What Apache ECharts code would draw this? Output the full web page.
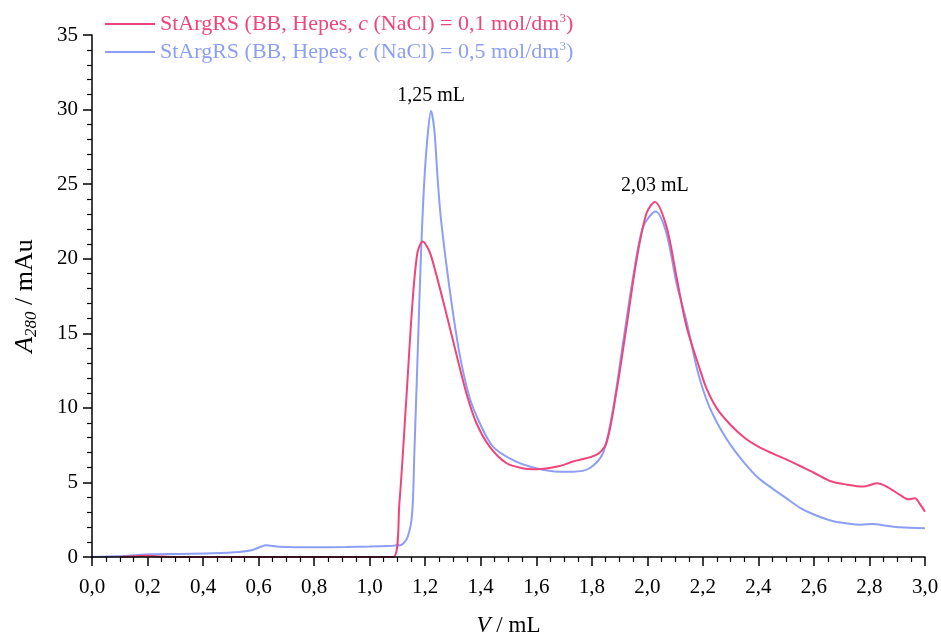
<!DOCTYPE html>
<html>
<head>
<meta charset="utf-8">
<script src="https://cdn.jsdelivr.net/npm/echarts@6/dist/echarts.min.js"></script>
<style>html,body{margin:0;padding:0;background:#fff}#c{width:941px;height:639px}</style>
</head>
<body>
<div id="c"></div>
<script>
// Series 1: c(NaCl) = 0,1 mol/dm3
const pinkV = [0.10,0.15,0.20,0.25,0.30,1.085,1.107,1.131,1.154,1.172,1.191,1.215,1.239,1.275,1.311,1.348,1.384,1.432,1.492,1.55,1.60,1.684,1.732,1.816,1.852,1.888,1.925,1.961,1.997,2.027,2.069,2.105,2.141,2.189,2.213,2.249,2.30,2.35,2.40,2.45,2.50,2.55,2.60,2.658,2.72,2.778,2.826,2.862,2.91,2.94,2.964,2.98,3.00];
const pinkA = [0.0,0.05,0.08,0.03,0.0,0.0,3.6,10.3,17.0,20.4,21.15,20.5,19.0,16.4,13.7,11.0,9.0,7.4,6.3,5.95,5.88,6.1,6.4,6.84,7.6,11.0,15.45,19.9,23.05,23.8,22.15,18.8,15.45,12.6,11.3,10.0,8.85,8.0,7.4,6.95,6.55,6.1,5.65,5.1,4.85,4.72,4.94,4.72,4.16,3.87,3.94,3.6,3.04];
// Series 2: c(NaCl) = 0,5 mol/dm3
const blueV = [0.0,0.109,0.217,0.314,0.433,0.53,0.578,0.61,0.626,0.674,0.795,0.915,1.0,1.083,1.113,1.137,1.153,1.161,1.173,1.185,1.197,1.21,1.221,1.233,1.245,1.257,1.287,1.323,1.359,1.396,1.444,1.516,1.60,1.684,1.732,1.792,1.84,1.876,1.912,1.949,1.985,2.03,2.069,2.105,2.141,2.177,2.201,2.225,2.26,2.30,2.35,2.40,2.45,2.50,2.55,2.60,2.67,2.72,2.77,2.81,2.86,2.91,3.00];
const blueA = [0.0,0.07,0.18,0.2,0.25,0.34,0.47,0.7,0.78,0.69,0.65,0.67,0.7,0.76,0.8,1.36,2.93,7.0,13.7,20.4,25.3,28.5,29.9,28.6,25.3,22.6,18.1,13.7,10.75,9.0,7.4,6.5,5.95,5.72,5.72,5.95,6.95,9.86,14.3,18.8,22.15,23.16,21.7,18.36,15.8,12.76,11.2,10.0,8.7,7.5,6.3,5.3,4.6,3.95,3.3,2.85,2.4,2.25,2.17,2.21,2.1,1.99,1.92];
// Peak annotations
const peakV = [1.221, 2.027];
const peakA = [29.9, 23.8];
const peakText = ['1,25 mL', '2,03 mL'];
const seriesNames = ['c01', 'c05'];
const legendSalt = ['0,1', '0,5'];

const FONT = 'Liberation Serif';
const PINK = '#f0457a';
const BLUE = '#8c9ff5';

const chart = echarts.init(document.getElementById('c'));
const zip = (a, b) => a.map((v, i) => [v, b[i]]);
chart.setOption({
  animation: false,
  backgroundColor: '#fff',
  grid: {left: 92, right: 16, top: 35, bottom: 82, containLabel: false, outerBoundsMode: 'none'},
  legend: {
    left: 100, top: 7, orient: 'vertical', itemGap: 5,
    itemWidth: 50, itemHeight: 2,
    icon: 'rect',
    data: seriesNames,
    formatter: function (name) {
      const k = seriesNames.indexOf(name);
      const col = k === 0 ? 'p' : 'b';
      return '{' + col + 't|StArgRS (BB, Hepes, }{' + col + 'i|c}{' + col + 't| (NaCl) = ' + legendSalt[k] + ' mol/dm}{' + col + 's|3}{' + col + 't|)}';
    },
    textStyle: {
      fontFamily: FONT, fontSize: 22,
      rich: {
        pt: {fontFamily: FONT, fontSize: 22, color: PINK},
        pi: {fontFamily: FONT, fontSize: 22, fontStyle: 'italic', color: PINK},
        ps: {fontFamily: FONT, fontSize: 13, color: PINK, padding: [0, 0, 11, 0]},
        bt: {fontFamily: FONT, fontSize: 22, color: BLUE},
        bi: {fontFamily: FONT, fontSize: 22, fontStyle: 'italic', color: BLUE},
        bs: {fontFamily: FONT, fontSize: 13, color: BLUE, padding: [0, 0, 11, 0]}
      }
    }
  },
  xAxis: {
    type: 'value', min: 0, max: 3, interval: 0.2, z: 5,
    name: '{i|V}{t| / mL}', nameLocation: 'middle', nameGap: 57,
    nameTextStyle: {rich: {i: {fontFamily: FONT, fontSize: 23, fontStyle: 'italic', color: '#000'}, t: {fontFamily: FONT, fontSize: 23, color: '#000'}}},
    axisLine: {onZero: false, lineStyle: {color: '#000', width: 1.5}},
    axisTick: {inside: false, length: 9, lineStyle: {color: '#000', width: 1.5}},
    minorTick: {show: true, splitNumber: 4, length: 5, lineStyle: {color: '#000', width: 1.2}},
    axisLabel: {fontFamily: FONT, fontSize: 21, color: '#000', margin: 20,
      formatter: v => v.toFixed(1).replace('.', ',')},
    splitLine: {show: false}
  },
  yAxis: {
    type: 'value', min: 0, max: 35, interval: 5, z: 5,
    name: '{i|A}{s|280}{t| / mAu}', nameLocation: 'middle', nameGap: 52, nameRotate: 90,
    nameTextStyle: {rich: {
      i: {fontFamily: FONT, fontSize: 26, fontStyle: 'italic', color: '#000'},
      s: {fontFamily: FONT, fontSize: 17, fontStyle: 'italic', color: '#000', padding: [12, 0, 0, 0]},
      t: {fontFamily: FONT, fontSize: 26, color: '#000'}
    }},
    axisLine: {show: true, onZero: false, lineStyle: {color: '#000', width: 1.5}},
    axisTick: {show: true, length: 9, lineStyle: {color: '#000', width: 1.5}},
    minorTick: {show: true, splitNumber: 5, length: 5, lineStyle: {color: '#000', width: 1.2}},
    axisLabel: {fontFamily: FONT, fontSize: 21, color: '#000', margin: 14},
    splitLine: {show: false}
  },
  series: [
    {
      name: seriesNames[0], type: 'line', data: zip(pinkV, pinkA),
      showSymbol: false, smooth: 0.3,
      lineStyle: {color: PINK, width: 2}, itemStyle: {color: PINK}, z: 3,
      markPoint: {
        symbol: 'circle', symbolSize: 0,
        label: {show: true, position: 'top', distance: 6, color: '#000', fontFamily: FONT, fontSize: 20, formatter: p => p.name},
        data: [{name: peakText[1], coord: [peakV[1], peakA[1]]}]
      }
    },
    {
      name: seriesNames[1], type: 'line', data: zip(blueV, blueA),
      showSymbol: false, smooth: 0.3,
      lineStyle: {color: BLUE, width: 2}, itemStyle: {color: BLUE}, z: 2,
      markPoint: {
        symbol: 'circle', symbolSize: 0,
        label: {show: true, position: 'top', distance: 5, color: '#000', fontFamily: FONT, fontSize: 20, formatter: p => p.name},
        data: [{name: peakText[0], coord: [peakV[0], peakA[0]]}]
      }
    }
  ]
});
</script>
</body>
</html>
